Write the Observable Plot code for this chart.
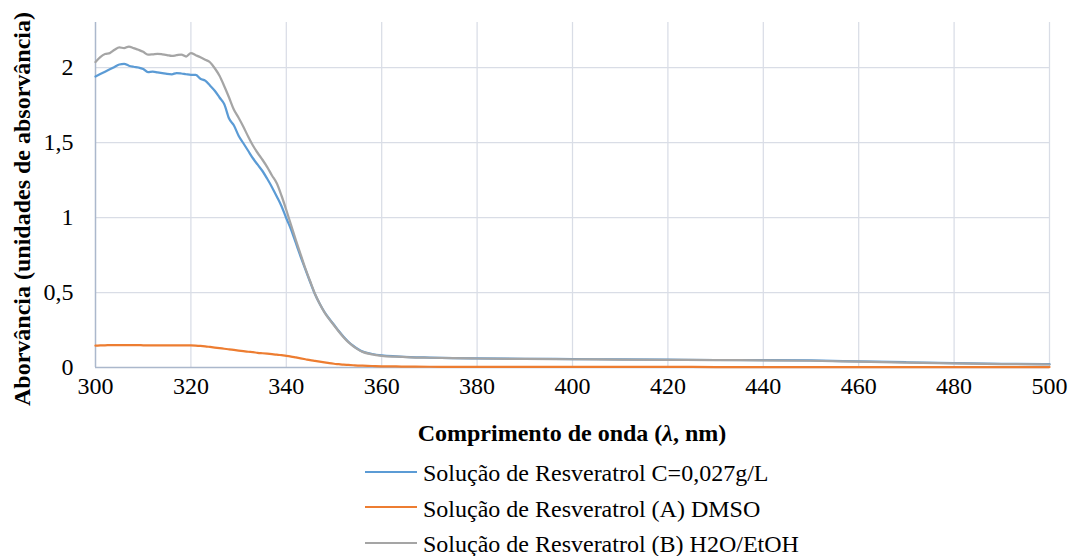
<!DOCTYPE html>
<html>
<head>
<meta charset="utf-8">
<script src="https://cdn.jsdelivr.net/npm/d3@7"></script>
<script src="https://cdn.jsdelivr.net/npm/@observablehq/plot@0.6"></script>
<style>
  html, body { margin: 0; padding: 0; background: #fff; }
  #wrap { position: relative; width: 1069px; height: 556px; overflow: hidden; font-family: "Liberation Serif", "Times New Roman", serif; color: #000; }
  #chart { position: absolute; left: 0; top: 0; }
  #xtitle { position: absolute; left: 272px; width: 600px; top: 418px; text-align: center; font-size: 24px; line-height: 30px; font-weight: bold; }
  .lg { position: absolute; left: 365px; height: 34px; line-height: 34px; font-size: 24px; white-space: nowrap; }
  .lg .sw { position: absolute; left: 0; top: 14.5px; width: 52px; height: 2.25px; }
  .lg .tx { position: absolute; left: 58px; top: 0; }
</style>
</head>
<body>
<div id="wrap">
  <div id="chart"></div>
  <div id="xtitle">Comprimento de onda (<i>λ</i>, nm)</div>
  <div id="legend"></div>
</div>
<script>
const seriesNames = [
  "Solução de Resveratrol C=0,027g/L",
  "Solução de Resveratrol (A) DMSO",
  "Solução de Resveratrol (B) H2O/EtOH"
];
const seriesColors = ["#5b9bd5", "#ed7d31", "#a5a5a5"];
const xTicks = [300, 320, 340, 360, 380, 400, 420, 440, 460, 480, 500];
const yTicks = [0, 0.5, 1, 1.5, 2];
const yLabel = "Aborvância (unidades de absorvância)";

const wavelength = [300,301,302,303,304,305,306,307,308,309,310,311,312,313,314,315,316,317,318,319,320,321,322,323,324,325,326,327,328,329,330,331,332,333,334,335,336,337,338,339,340,341,342,343,344,345,346,347,348,349,350,351,352,353,354,355,356,358,360,363,366,370,375,380,390,400,410,420,430,440,450,460,470,480,490,500];

const blue = [1.940,1.956,1.972,1.988,2.004,2.020,2.025,2.012,2.005,2.000,1.990,1.969,1.972,1.967,1.962,1.957,1.955,1.963,1.960,1.955,1.951,1.951,1.925,1.912,1.880,1.845,1.800,1.755,1.660,1.615,1.545,1.495,1.445,1.395,1.352,1.310,1.258,1.202,1.140,1.075,0.995,0.920,0.830,0.740,0.655,0.570,0.490,0.425,0.370,0.325,0.285,0.243,0.205,0.172,0.145,0.123,0.106,0.090,0.081,0.074,0.069,0.066,0.063,0.061,0.058,0.056,0.054,0.052,0.050,0.050,0.047,0.041,0.035,0.029,0.025,0.022];

const orange = [0.146,0.147,0.148,0.149,0.150,0.150,0.150,0.150,0.149,0.149,0.148,0.148,0.147,0.147,0.147,0.147,0.147,0.147,0.147,0.147,0.147,0.146,0.144,0.141,0.137,0.133,0.129,0.125,0.121,0.117,0.113,0.109,0.105,0.102,0.098,0.095,0.092,0.089,0.086,0.082,0.078,0.073,0.067,0.061,0.055,0.049,0.044,0.039,0.034,0.029,0.025,0.022,0.019,0.017,0.015,0.013,0.012,0.010,0.008,0.007,0.006,0.005,0.005,0.004,0.004,0.004,0.004,0.004,0.003,0.003,0.003,0.003,0.003,0.003,0.003,0.003];

const gray = [2.036,2.069,2.090,2.096,2.118,2.134,2.129,2.140,2.129,2.118,2.105,2.086,2.088,2.091,2.088,2.083,2.077,2.082,2.086,2.073,2.096,2.082,2.068,2.052,2.035,1.995,1.945,1.875,1.800,1.720,1.665,1.605,1.540,1.480,1.430,1.385,1.336,1.280,1.228,1.145,1.050,0.950,0.850,0.755,0.660,0.575,0.492,0.425,0.368,0.322,0.282,0.240,0.202,0.169,0.143,0.121,0.104,0.087,0.078,0.072,0.068,0.065,0.062,0.060,0.057,0.055,0.053,0.051,0.049,0.048,0.045,0.039,0.033,0.027,0.023,0.020];

const seriesValues = [blue, orange, gray];
const tables = seriesValues.map(vals => wavelength.map((w, i) => ({w, v: vals[i]})));

const chart = Plot.plot({
  width: 1069,
  height: 420,
  marginLeft: 95,
  marginRight: 20,
  marginTop: 22,
  marginBottom: 53,
  style: {fontFamily: "'Liberation Serif', 'Times New Roman', serif", fontSize: "24px", color: "#000", background: "transparent", overflow: "visible"},
  x: {domain: [300, 500], ticks: xTicks, tickSize: 0, tickPadding: 9, label: null},
  y: {domain: [0, 2.3], ticks: yTicks, tickSize: 0, tickPadding: 22, label: null, tickFormat: d => String(d).replace(".", ",")},
  marks: [
    Plot.ruleX(xTicks.slice(1), {stroke: "#d9dde6", strokeWidth: 1.25}),
    Plot.ruleY(yTicks.slice(1), {stroke: "#d9dde6", strokeWidth: 1.25}),
    Plot.ruleX([300], {stroke: "#abb8cc", strokeWidth: 1.5}),
    Plot.ruleY([0], {stroke: "#abb8cc", strokeWidth: 1.5}),
    ...tables.map((t, i) => Plot.line(t, {x: "w", y: "v", stroke: seriesColors[i], strokeWidth: 2.25, curve: "monotone-x"})),
    Plot.text([yLabel], {text: d => d, frameAnchor: "left", rotate: -90, dx: -73, dy: 14, fontWeight: "bold", fontSize: 24, fill: "#000", textAnchor: "middle", lineAnchor: "middle"})
  ]
});
document.getElementById("chart").appendChild(chart);

const legend = document.getElementById("legend");
seriesNames.forEach((name, i) => {
  const row = document.createElement("div");
  row.className = "lg";
  row.style.top = (456 + i * 35.5) + "px";
  const sw = document.createElement("span");
  sw.className = "sw";
  sw.style.background = seriesColors[i];
  const tx = document.createElement("span");
  tx.className = "tx";
  tx.textContent = name;
  row.appendChild(sw);
  row.appendChild(tx);
  legend.appendChild(row);
});
</script>
</body>
</html>
